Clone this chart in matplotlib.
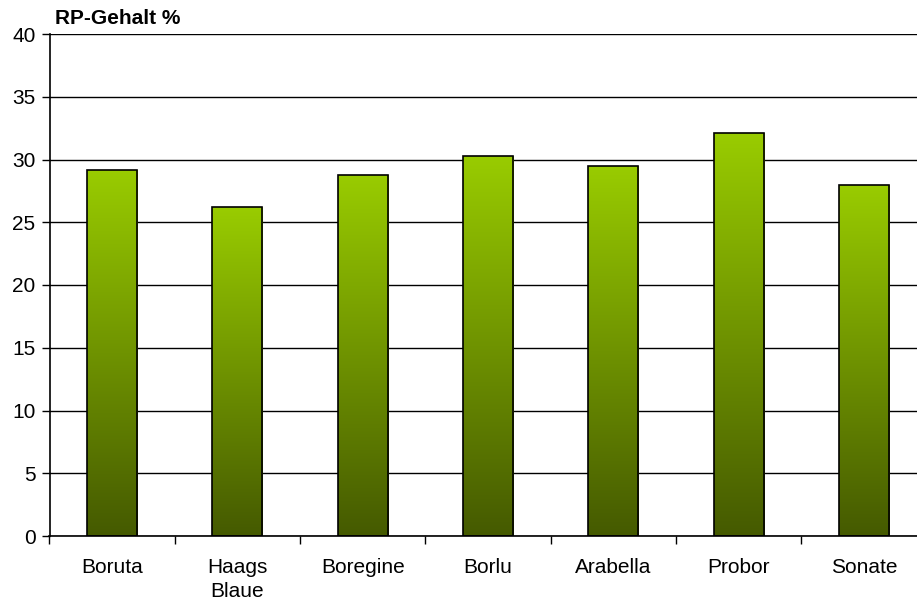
import numpy as np
import matplotlib.pyplot as plt
from matplotlib.colors import LinearSegmentedColormap

plt.rcParams['font.family'] = ['Liberation Sans', 'DejaVu Sans']

# Daten
sorten = ['Boruta', 'Haags\nBlaue', 'Boregine', 'Borlu', 'Arabella', 'Probor', 'Sonate']
rp_gehalt = [29.2, 26.2, 28.8, 30.3, 29.5, 32.1, 28.0]

fig = plt.figure(figsize=(9.17, 6.03), dpi=100)
# Achse reicht rechts etwas über den Bildrand hinaus (wie im Original)
ax = fig.add_axes([49.5 / 917, 67 / 603, 877 / 917, 502 / 603])

x = np.arange(len(sorten))
bars = ax.bar(x, rp_gehalt, width=0.40, color='none', edgecolor='black',
              linewidth=1.2, zorder=3)

# Verlauf von hellgruen (oben) nach dunkeloliv (unten)
cmap = LinearSegmentedColormap.from_list('gruen', ['#455a00', '#99cc00'])
grad = np.linspace(0, 1, 256).reshape(-1, 1)
for b in bars:
    bx, by = b.get_x(), b.get_y()
    bw, bh = b.get_width(), b.get_height()
    im = ax.imshow(grad, cmap=cmap, origin='lower', aspect='auto',
                   extent=[bx, bx + bw, by, by + bh], zorder=2)
    im.set_clip_path(b)

ax.set_xlim(-0.5, len(sorten) - 0.5)
ax.set_ylim(0, 40)
ax.set_yticks(np.arange(0, 41, 5))
ax.yaxis.grid(True, color='black', linewidth=1.0, zorder=0)
ax.set_axisbelow(True)

ax.set_xticks(x)
ax.set_xticklabels(sorten, fontsize=15, linespacing=1.35)
ax.tick_params(axis='x', length=0, pad=16)
ax.set_xticks(np.arange(-0.5, len(sorten), 1), minor=True)
ax.tick_params(axis='x', which='minor', length=6, direction='out', width=1)
ax.tick_params(axis='y', labelsize=15, length=6, width=1, direction='out', pad=4)

for s in ['top', 'right']:
    ax.spines[s].set_visible(False)
for s in ['left', 'bottom']:
    ax.spines[s].set_linewidth(1.2)

fig.text(55 / 917, 1 - 18 / 603, 'RP-Gehalt %', fontsize=15, fontweight='bold',
         va='center', ha='left')

fig.savefig('out.png', dpi=100)
